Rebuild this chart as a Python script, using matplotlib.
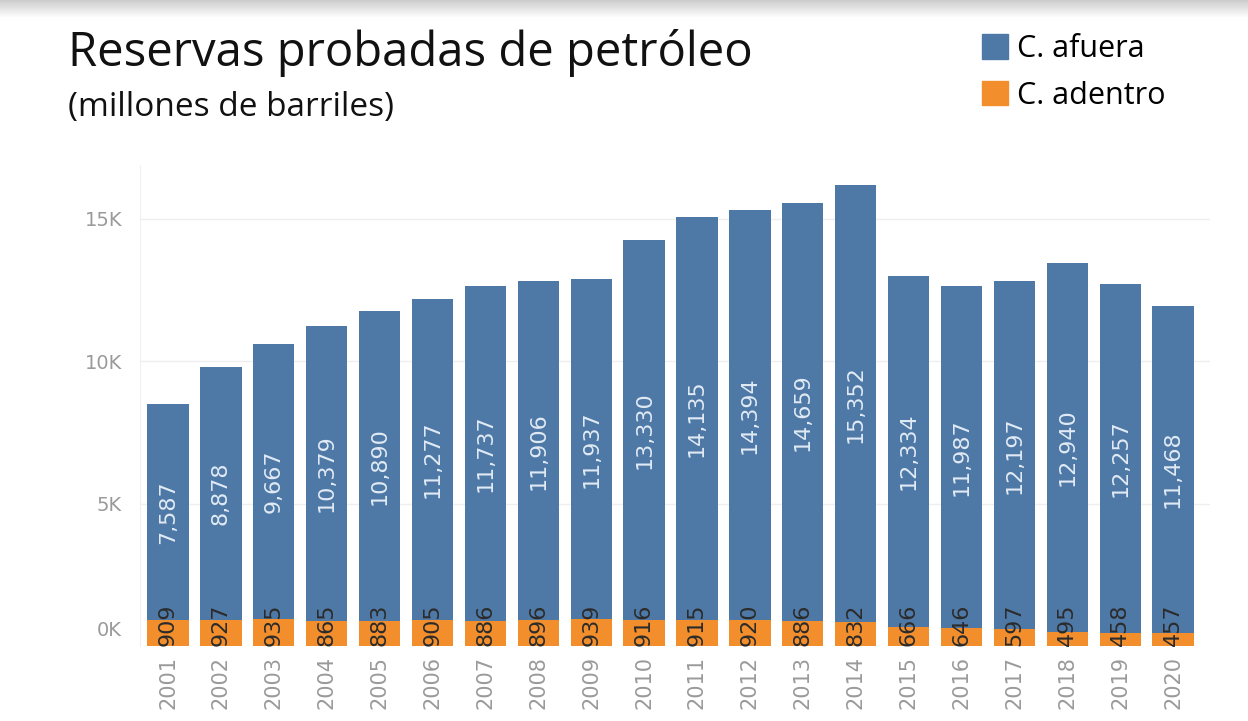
import numpy as np
import matplotlib
matplotlib.use("Agg")
import matplotlib.pyplot as plt
from matplotlib.patches import Patch

years = [str(y) for y in range(2001, 2021)]
costa_afuera = [7587, 8878, 9667, 10379, 10890, 11277, 11737, 11906, 11937, 13330,
                14135, 14394, 14659, 15352, 12334, 11987, 12197, 12940, 12257, 11468]
costa_adentro = [909, 927, 935, 865, 883, 905, 886, 896, 939, 916,
                 915, 920, 886, 832, 666, 646, 597, 495, 458, 457]
y_ticks = [5000, 10000, 15000]
y_tick_labels = ["5K", "10K", "15K"]

BLUE = "#4e79a7"
ORANGE = "#f28e2b"
GRAY = "#9a9a9a"

plt.rcParams["font.family"] = ["Open Sans", "DejaVu Sans"]

fig = plt.figure(figsize=(12.48, 7.21), dpi=100)

# soft shadow strip at the top of the picture
shade = fig.add_axes([0, 1 - 18 / 721, 1, 18 / 721])
grad = np.linspace(0.80, 1.0, 50).reshape(-1, 1)
shade.imshow(grad, aspect="auto", cmap="gray", vmin=0, vmax=1, extent=[0, 1, 0, 1])
shade.axis("off")

ax = fig.add_axes([0.1122, 0.104, 0.8574, 0.667])
x = np.arange(len(years))
ax.bar(x, costa_adentro, width=0.78, color=ORANGE, zorder=2)
ax.bar(x, costa_afuera, width=0.78, bottom=costa_adentro, color=BLUE, zorder=2)

for xi, a, b in zip(x, costa_adentro, costa_afuera):
    ax.text(xi, a + b / 2, f"{b:,}", rotation=90, ha="center", va="center",
            color="#e1eaf4", fontsize=16, family="DejaVu Sans", zorder=3)
    ax.text(xi, 0, f"{a}", rotation=90, ha="center", va="bottom",
            color="#2b2b2b", fontsize=16, family="DejaVu Sans", zorder=3)

ax.set_xlim(-0.53, 19.7)
ax.set_ylim(0, 16877)
ax.set_xticks(x)
ax.set_xticklabels(years, rotation=90, color=GRAY, fontsize=15, family="DejaVu Sans")
ax.set_yticks(y_ticks)
ax.set_yticklabels(y_tick_labels, color=GRAY, fontsize=14, family="DejaVu Sans")
ax.annotate("0K", xy=(0, 0), xycoords=("axes fraction", "data"),
            xytext=(-13, 11), textcoords="offset points", ha="right", va="center",
            color=GRAY, fontsize=14, family="DejaVu Sans")
ax.tick_params(axis="both", length=0)
ax.tick_params(axis="y", pad=13)
ax.tick_params(axis="x", pad=7)
ax.grid(axis="y", color="#efefef", lw=1, zorder=0)
for side in ["top", "right", "bottom"]:
    ax.spines[side].set_visible(False)
ax.spines["left"].set_color("#f0f0f0")

fig.text(68 / 1248, 1 - 66 / 721, "Reservas probadas de petróleo", fontsize=34,
         color="#111111", ha="left", va="baseline")
fig.text(68 / 1248, 1 - 116 / 721, "(millones de barriles)", fontsize=24,
         color="#111111", ha="left", va="baseline")

handles = [Patch(color=BLUE, label="C. afuera"), Patch(color=ORANGE, label="C. adentro")]
fig.legend(handles=handles, loc="upper left", bbox_to_anchor=(982 / 1248, 1 - 34 / 721),
           frameon=False, fontsize=22, handlelength=0.85, handleheight=0.85,
           handletextpad=0.3, labelspacing=0.55, borderaxespad=0, borderpad=0)

fig.savefig("out.png", dpi=100)
